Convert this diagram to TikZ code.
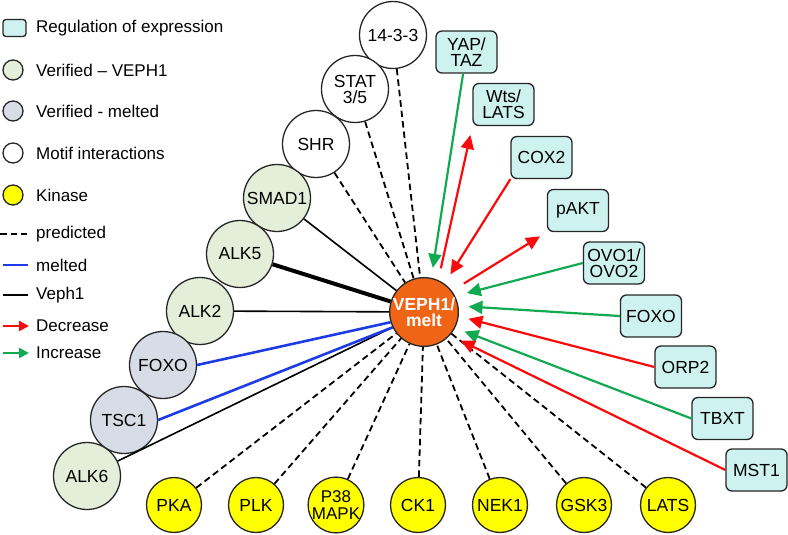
\documentclass[tikz,border=0pt]{standalone}
\usepackage{fontspec}
\setmainfont{Liberation Sans}
\usetikzlibrary{positioning,arrows.meta,calc}

\definecolor{vephorange}{RGB}{240,100,22}
\definecolor{verigreen}{RGB}{229,238,217}
\definecolor{melgrey}{RGB}{216,220,230}
\definecolor{kinyellow}{RGB}{255,255,0}
\definecolor{regcyan}{RGB}{206,242,240}
\definecolor{meltblue}{RGB}{30,60,230}
\definecolor{incgreen}{RGB}{18,170,80}
\definecolor{decred}{RGB}{250,10,10}

\begin{document}
\begin{tikzpicture}[x=1pt, y=-1pt, font=\fontsize{17.5}{16}\selectfont,
    every node/.style={inner sep=0pt},
    ball/.style={circle, draw=black!85, line width=1.3pt, minimum size=67pt, align=center},
    verified/.style={ball, fill=verigreen},
    melted/.style={ball, fill=melgrey},
    motif/.style={ball, fill=white},
    kinase/.style={circle, draw=black!85, line width=1.3pt, fill=kinyellow, minimum size=55pt, align=center},
    regbox/.style={rectangle, rounded corners=6pt, draw=black!85, line width=1.3pt, fill=regcyan,
                   minimum width=61pt, minimum height=42pt, align=center},
    pred/.style={dash pattern=on 6.5pt off 4pt, line width=1.8pt},
    vline/.style={line width=1.6pt},
    mline/.style={draw=meltblue, line width=2.6pt},
    incr/.style={draw=incgreen, line width=2.2pt, -{Triangle[length=14pt,width=13pt]}},
    decr/.style={draw=decred, line width=2.2pt, -{Triangle[length=14pt,width=13pt]}},
    legtext/.style={anchor=west, font=\fontsize{17}{18}\selectfont}]

    \useasboundingbox (0,0) rectangle (788,535);

    % Legend
    \node[rectangle, rounded corners=3pt, draw=black!85, line width=1.3pt, fill=regcyan,
          minimum width=23pt, minimum height=17pt] (lbox) at (14.5,28) {};
    \node[legtext] (lboxt) at (36,28) {Regulation of expression};
    \node[circle, draw=black!85, line width=1.3pt, fill=verigreen, minimum size=20pt] (lver) at (13,70) {};
    \node[legtext] (lvert) at (36,70) {Verified – VEPH1};
    \node[circle, draw=black!85, line width=1.3pt, fill=melgrey, minimum size=20pt] (lmel) at (13,111) {};
    \node[legtext] (lmelt) at (36,111) {Verified - melted};
    \node[circle, draw=black!85, line width=1.3pt, fill=white, minimum size=20pt] (lmot) at (13,153) {};
    \node[legtext] (lmott) at (36,153) {Motif interactions};
    \node[circle, draw=black!85, line width=1.3pt, fill=kinyellow, minimum size=20pt] (lkin) at (13,195) {};
    \node[legtext] (lkint) at (36,195) {Kinase};

    \coordinate (lp1) at (0,234);   \coordinate (lp2) at (27,234);
    \coordinate (lb1) at (3,265);   \coordinate (lb2) at (28,265);
    \coordinate (lk1) at (3,295);   \coordinate (lk2) at (28,295);
    \coordinate (lr1) at (3,326);   \coordinate (lr2) at (29,326);
    \coordinate (lg1) at (3,353);   \coordinate (lg2) at (29,353);
    \draw[pred] (lp1) -- (lp2);
    \draw[mline] (lb1) -- (lb2);
    \draw[vline] (lk1) -- (lk2);
    \draw[decr, -{Triangle[length=10pt,width=10pt]}] (lr1) -- (lr2);
    \draw[incr, -{Triangle[length=10pt,width=10pt]}] (lg1) -- (lg2);
    \node[legtext] (lpt) at (36,234) {predicted};
    \node[legtext] (lbt) at (36,265) {melted};
    \node[legtext] (lkt) at (36,295) {Veph1};
    \node[legtext] (lrt) at (36,326) {Decrease};
    \node[legtext] (lgt) at (36,353) {Increase};

    % Centre
    \node[circle, draw=black!85, line width=1.3pt, fill=vephorange, minimum size=66pt, align=center,
          text=white, font=\bfseries\fontsize{17.5}{16.5}\selectfont] (veph) at (424,312) {VEPH1/\\melt};

    % Interaction partners
    \node[motif] (m1433) at (393,35) {14-3-3};
    \node[motif] (stat) at (355,89) {STAT\\3/5};
    \node[motif] (shr) at (316,144) {SHR};
    \node[verified] (smad) at (277,198) {SMAD1};
    \node[verified] (alk5) at (240,254) {ALK5};
    \node[verified] (alk2) at (200,311) {ALK2};
    \node[melted] (foxom) at (163,365) {FOXO};
    \node[melted] (tsc) at (124,420) {TSC1};
    \node[verified] (alk6) at (87,476) {ALK6};

    % Kinases
    \node[kinase] (pka) at (174,505) {PKA};
    \node[kinase] (plk) at (256,505) {PLK};
    \node[kinase, font=\fontsize{17}{16.5}\selectfont] (p38) at (336,505) {P38\\MAPK};
    \node[kinase] (ck1) at (418,505) {CK1};
    \node[kinase] (nek) at (500,505) {NEK1};
    \node[kinase] (gsk) at (584,505) {GSK3};
    \node[kinase] (lats) at (668,505) {LATS};

    % Regulation of expression
    \node[regbox] (yap) at (466.5,52) {YAP/\\TAZ};
    \node[regbox] (wts) at (503.5,104.5) {Wts/\\LATS};
    \node[regbox] (cox) at (541.5,157.5) {COX2};
    \node[regbox] (pakt) at (578,210.5) {pAKT};
    \node[regbox] (ovo) at (614,263) {OVO1/\\OVO2};
    \node[regbox] (foxo) at (651,316) {FOXO};
    \node[regbox] (orp) at (685.5,367) {ORP2};
    \node[regbox] (tbxt) at (722.5,418.5) {TBXT};
    \node[regbox] (mst) at (756.5,470) {MST1};

    % Draw predicted links
    \foreach \n in {m1433, stat, shr, pka, plk, p38, ck1, nek, gsk, lats}
        \draw[pred] (\n) -- (veph);

    % Draw verified links
    \draw[vline] (smad) -- (veph);
    \draw[vline, line width=4pt] (alk5) -- (veph);
    \draw[vline] (alk2) -- (veph);
    \draw[vline] (alk6) -- (veph);
    \draw[mline] (foxom.east) -- (veph.197);
    \draw[mline] (tsc.east) -- (veph.206);

    % Draw regulation arrows
    \draw[incr, shorten >=10pt] (yap) -- (veph.78);
    \draw[decr, shorten <=12pt, shorten >=9pt] (veph.66) -- (wts.south west);
    \draw[decr, shorten >=11pt] (cox.south west) -- (veph.54);
    \draw[decr, shorten <=14pt, shorten >=8pt] (veph.37) -- (pakt.south west);
    \draw[incr, shorten >=12pt] (ovo.west) -- (veph.27);
    \draw[incr, shorten >=10pt] (foxo.west) -- (veph.10);
    \draw[decr, shorten >=10pt] (orp.west) -- (veph.-7);
    \draw[incr, shorten >=10pt] (tbxt.west) -- (veph.-27);
    \draw[decr, shorten >=12pt] (mst.west) -- (veph.-42);

\end{tikzpicture}
\end{document}
